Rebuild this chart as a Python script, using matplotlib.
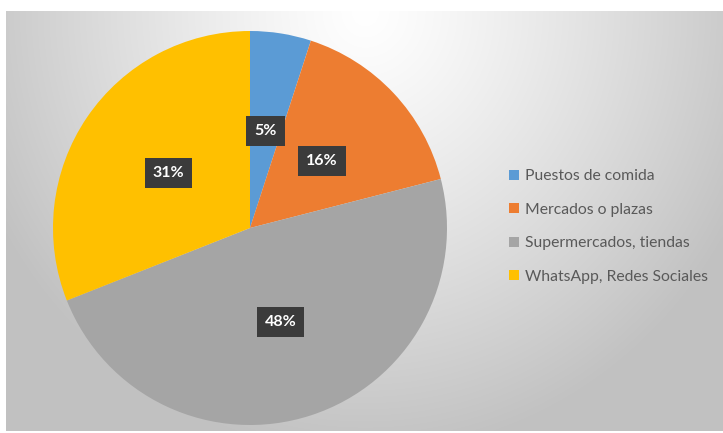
import numpy as np
import matplotlib
matplotlib.use("Agg")
import matplotlib.pyplot as plt
from matplotlib.patches import Patch

categories = ["Puestos de comida", "Mercados o plazas",
              "Supermercados, tiendas", "WhatsApp, Redes Sociales"]
values = [5, 16, 48, 31]
colors = ["#5B9BD5", "#ED7D31", "#A5A5A5", "#FFC000"]

W, H = 723, 433
DPI = 100
plt.rcParams["font.family"] = ["Lato", "DejaVu Sans"]

fig = plt.figure(figsize=(W / DPI, H / DPI), dpi=DPI, facecolor="white")

# chart-area background: radial gradient, light at the top centre
bg = fig.add_axes([6 / W, 2 / H, (W - 6) / W, (H - 13) / H])
bg.set_axis_off()
ny, nx = 220, 360
yy, xx = np.mgrid[0:ny, 0:nx]
cx, cy = 0.50 * nx, 0.0
d = np.sqrt(((xx - cx) / (0.58 * nx)) ** 2 + ((yy - cy) / (1.05 * ny)) ** 2)
d = np.clip(d, 0, 1)
lum = 1.0 - (1.0 - 0.76) * d ** 1.2
img = np.dstack([lum, lum, lum])
bg.imshow(img, extent=[0, 1, 0, 1], aspect="auto", origin="upper",
          interpolation="bilinear")
bg.set_xlim(0, 1)
bg.set_ylim(0, 1)

# pie axes
cxp, cyp, R = 250, 228, 197
ax = fig.add_axes([(cxp - R) / W, (H - cyp - R) / H, 2 * R / W, 2 * R / H])
ax.set_axis_off()
wedges, texts, autotexts = ax.pie(
    values, colors=colors, startangle=90, counterclock=False,
    radius=1.0, pctdistance=0.5,
    autopct=lambda p: f"{p:.0f}%",
    wedgeprops=dict(linewidth=0),
    textprops=dict(color="white", fontsize=11.5, fontweight="bold"),
)
for t in autotexts:
    t.set_bbox(dict(boxstyle="square,pad=0.5", facecolor="#3B3B3B",
                    edgecolor="none"))
ax.set_xlim(-1, 1)
ax.set_ylim(-1, 1)
ax.set_aspect("auto")

# legend
handles = [Patch(facecolor=c, edgecolor="none") for c in colors]
leg = fig.legend(handles, categories, loc="upper left",
                 bbox_to_anchor=(495 / W, 1 - 155 / H),
                 frameon=False, fontsize=11.3, labelcolor="#595959",
                 handlelength=0.6, handleheight=0.6, handletextpad=0.4,
                 labelspacing=1.25)

fig.savefig("out.png", dpi=DPI, facecolor="white")
